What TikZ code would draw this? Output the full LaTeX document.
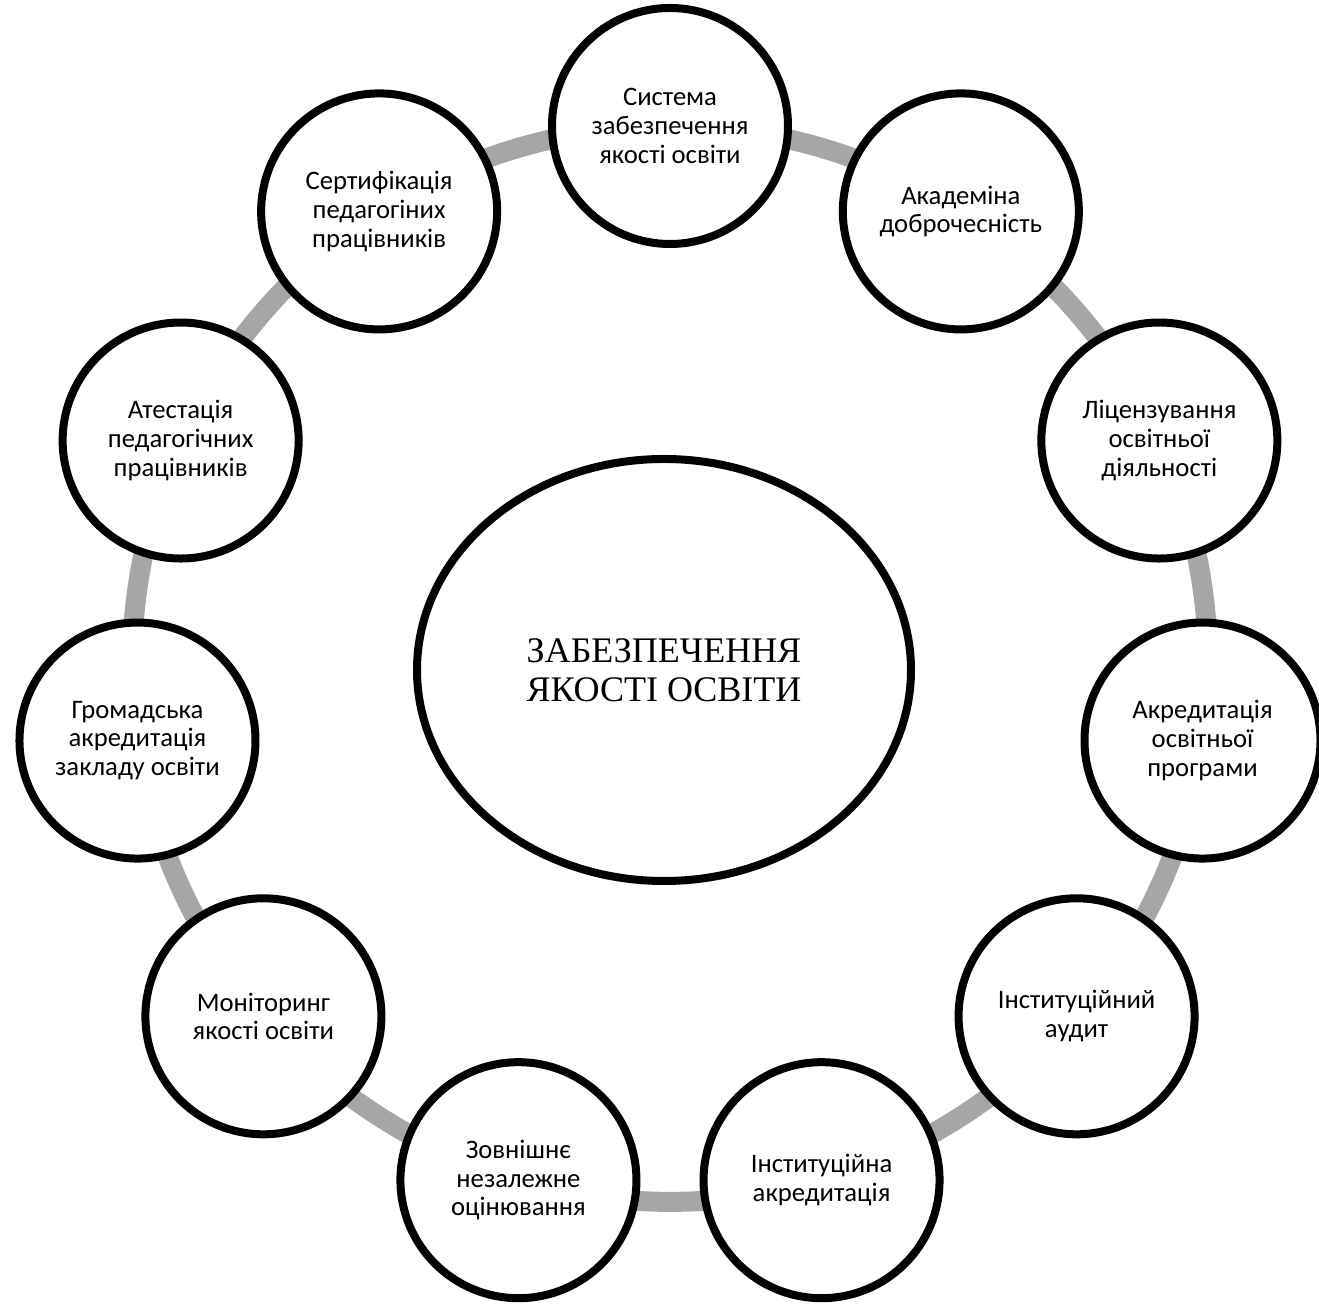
\documentclass[tikz,border=0pt]{standalone}
\usepackage{fontspec}
\setmainfont{Liberation Serif}
\newfontfamily\calfont{Carlito}
\usetikzlibrary{shapes.geometric,backgrounds}
\definecolor{ringgray}{HTML}{A6A6A6}
\begin{document}
\begin{tikzpicture}[
  x=0.75pt, y=0.75pt,
  item/.style={circle, draw=black, line width=6pt, fill=white,
    minimum size=177pt, inner sep=0pt, align=center,
    font=\calfont\fontsize{20}{21.5}\selectfont},
  hub/.style={ellipse, draw=black, line width=6pt, fill=white,
    minimum width=370.5pt, minimum height=316.5pt, inner sep=0pt,
    align=center, font=\fontsize{27}{29}\selectfont},
  ring/.style={draw=ringgray, line width=15pt, bend left=16.36, looseness=0.869}
]
\useasboundingbox (-670,-644) rectangle (649,664);

\node[hub] (hub) at (-6,-6) {ЗАБЕЗПЕЧЕННЯ\\ЯКОСТІ ОСВІТИ};

\node[item] (n1)  at ({90-0*360/11}:538)  {Система\\забезпечення\\якості освіти};
\node[item] (n2)  at ({90-1*360/11}:538)  {Академіна\\доброчесність};
\node[item] (n3)  at ({90-2*360/11}:538)  {Ліцензування\\освітньої\\діяльності};
\node[item] (n4)  at ({90-3*360/11}:538)  {Акредитація\\освітньої\\програми};
\node[item] (n5)  at ({90-4*360/11}:538)  {Інституційний\\аудит};
\node[item] (n6)  at ({90-5*360/11}:538)  {Інституційна\\акредитація};
\node[item] (n7)  at ({90-6*360/11}:538)  {Зовнішнє\\незалежне\\оцінювання};
\node[item] (n8)  at ({90-7*360/11}:538)  {Моніторинг\\якості освіти};
\node[item] (n9)  at ({90-8*360/11}:538)  {Громадська\\акредитація\\закладу освіти};
\node[item] (n10) at ({90-9*360/11}:538)  {Атестація\\педагогічних\\працівників};
\node[item] (n11) at ({90-10*360/11}:538) {Сертифікація\\педагогіних\\працівників};

\begin{pgfonlayer}{background}
  \draw[ring] (n1.center) to (n2.center);
  \draw[ring] (n2.center) to (n3.center);
  \draw[ring] (n3.center) to (n4.center);
  \draw[ring] (n4.center) to (n5.center);
  \draw[ring] (n5.center) to (n6.center);
  \draw[ring] (n6.center) to (n7.center);
  \draw[ring] (n7.center) to (n8.center);
  \draw[ring] (n8.center) to (n9.center);
  \draw[ring] (n9.center) to (n10.center);
  \draw[ring] (n10.center) to (n11.center);
  \draw[ring] (n11.center) to (n1.center);
\end{pgfonlayer}
\end{tikzpicture}
\end{document}
